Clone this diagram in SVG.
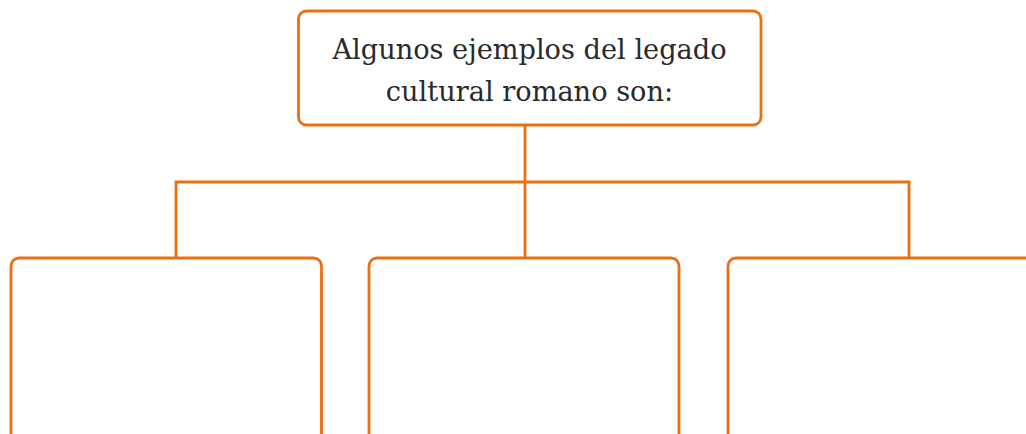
<svg xmlns="http://www.w3.org/2000/svg" width="1026" height="434" viewBox="0 0 1026 434">
<style>
.box{fill:#fff;stroke:#EC6F12;stroke-width:2.8}
.conn{fill:none;stroke:#EC6F12;stroke-width:2.8}
.t{font-family:"DejaVu Serif","Liberation Serif",serif;font-size:27.2px;fill:#2a2a2a;text-anchor:middle}
</style>
<rect width="1026" height="434" fill="#fff"/>
<g id="connectors">
<line class="conn" x1="525" y1="125" x2="525" y2="258"/>
<polyline class="conn" points="176,258 176,182 909,182 909,258"/>
</g>
<g id="top">
<rect class="box" x="298.5" y="11" width="462.5" height="114" rx="8"/>
<text class="t" x="529.5" y="58.5">Algunos ejemplos del legado</text>
<text class="t" x="529.5" y="100.5">cultural romano son:</text>
</g>
<g id="box1"><rect class="box" x="11" y="258" width="310.5" height="200" rx="8"/></g>
<g id="box2"><rect class="box" x="369" y="258" width="310" height="200" rx="8"/></g>
<g id="box3"><rect class="box" x="728" y="258" width="320" height="200" rx="8"/></g>
</svg>
